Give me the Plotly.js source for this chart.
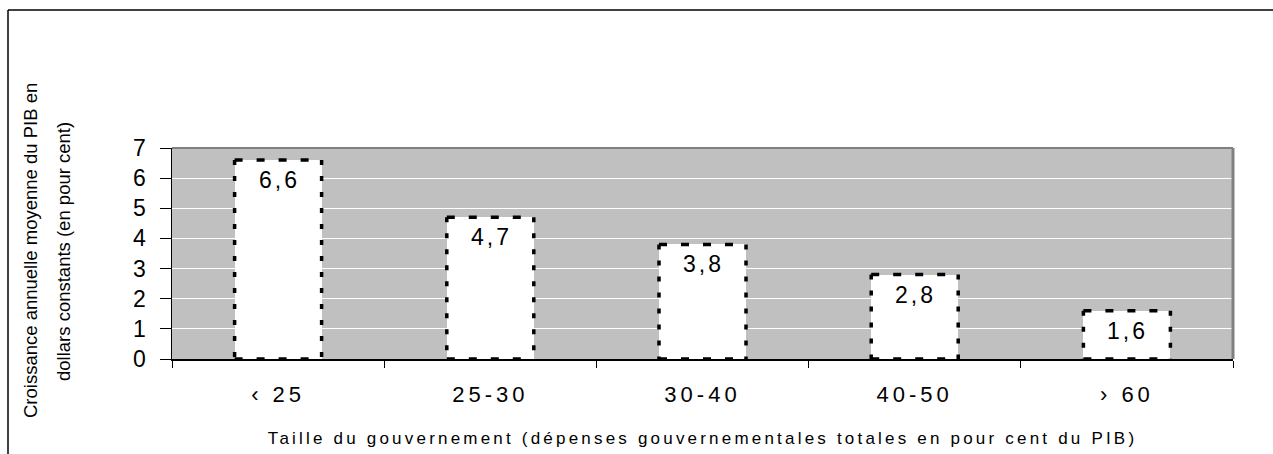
<!DOCTYPE html>
<html>
<head>
<meta charset="utf-8">
<script src="https://cdn.plot.ly/plotly-3.0.1.min.js"></script>
<style>
  html, body { margin: 0; padding: 0; background: #fff; }
  #chart { width: 1273px; height: 454px; }
  .xtick text { letter-spacing: 4px; }
  .g-xtitle text { letter-spacing: 3.2px; }
</style>
</head>
<body>
<div id="chart"></div>
<script>
// ---- data ----
const categories = ["\u2039 25", "25-30", "30-40", "40-50", "\u203A 60"];
const growthValues = [6.6, 4.7, 3.8, 2.8, 1.6];
const yTickValues = [0, 1, 2, 3, 4, 5, 6, 7];
const xTitleText = "Taille du gouvernement (dépenses gouvernementales totales en pour cent du PIB)";
const yTitleLines = ["Croissance annuelle moyenne du PIB en", "dollars constants (en pour cent)"];

// ---- layout geometry ----
const W = 1273, H = 454;
const M = { l: 172, r: 40, t: 148, b: 95 };
const plotW = W - M.l - M.r, plotH = H - M.t - M.b;
const px2x = p => (p - M.l) / plotW;
const py2y = p => (H - M.b - p) / plotH;
const barWidth = 0.41;
const FONT = '"Liberation Sans", Arial, sans-serif';

const fmt = v => v.toFixed(1).replace('.', ',');

const trace = {
  type: 'bar',
  x: categories,
  y: growthValues,
  width: barWidth,
  marker: { color: '#ffffff', line: { width: 0 } },
  hoverinfo: 'none'
};

const shapes = [];
// dotted bar outlines, built from the data values
const vDash = { color: '#000', width: 3.5, dash: '5px,11px' };
const hDash = { color: '#000', width: 3.5, dash: '8px,14px' };
growthValues.forEach((v, i) => {
  const x0 = i - barWidth / 2, x1 = i + barWidth / 2;
  shapes.push({ type: 'line', xref: 'x', yref: 'y', x0: x0, x1: x0, y0: v, y1: 0, line: vDash, layer: 'above' });
  shapes.push({ type: 'line', xref: 'x', yref: 'y', x0: x1, x1: x1, y0: v, y1: 0, line: vDash, layer: 'above' });
  shapes.push({ type: 'line', xref: 'x', yref: 'y', x0: x0, x1: x1, y0: v, y1: v, line: hDash, layer: 'above' });
  shapes.push({ type: 'line', xref: 'x', yref: 'y', x0: x0, x1: x1, y0: 0, y1: 0, line: hDash, layer: 'above' });
});
// plot-area shadow border (top & right)
shapes.push({ type: 'line', xref: 'paper', yref: 'paper', x0: 0, x1: 1, y0: 1, y1: 1,
  line: { color: '#808080', width: 2 } });
shapes.push({ type: 'line', xref: 'paper', yref: 'paper', x0: 1, x1: 1, y0: 0, y1: 1,
  line: { color: '#808080', width: 3 } });
// outer frame (top & left)
shapes.push({ type: 'line', xref: 'paper', yref: 'paper', x0: px2x(8), x1: px2x(1275), y0: py2y(10), y1: py2y(10),
  line: { color: '#000', width: 1.5 } });
shapes.push({ type: 'line', xref: 'paper', yref: 'paper', x0: px2x(8), x1: px2x(8), y0: py2y(10), y1: py2y(456),
  line: { color: '#000', width: 1.5 } });

const annotations = [];
growthValues.forEach((v, i) => {
  annotations.push({
    xref: 'x', yref: 'y', x: i, y: v,
    text: '<span style="letter-spacing:3px">' + fmt(v) + '</span>',
    showarrow: false, xanchor: 'center', yanchor: 'middle', yshift: -20, xshift: 1,
    font: { family: FONT, size: 23, color: '#000' }
  });
});
const yTitleX = [30, 63];
yTitleLines.forEach((t, k) => {
  annotations.push({
    xref: 'paper', yref: 'paper', x: px2x(yTitleX[k]), y: py2y(251),
    text: t, textangle: -90, showarrow: false,
    xanchor: 'center', yanchor: 'middle',
    font: { family: FONT, size: 18.5, color: '#000' }
  });
});

const layout = {
  width: W, height: H,
  margin: M,
  paper_bgcolor: '#ffffff',
  plot_bgcolor: '#c0c0c0',
  showlegend: false,
  font: { family: FONT, color: '#000' },
  bargap: 0,
  xaxis: {
    type: 'category',
    tickson: 'boundaries',
    ticks: 'outside', ticklen: 7, tickwidth: 1, tickcolor: '#000',
    showline: true, linecolor: '#000', linewidth: 1.5,
    showgrid: false, zeroline: false,
    tickfont: { family: FONT, size: 22, color: '#000' },
    ticklabelstandoff: 15,
    title: { text: xTitleText, font: { family: FONT, size: 17, color: '#000' }, standoff: 26 }
  },
  yaxis: {
    range: [0, 7],
    tickvals: yTickValues,
    ticktext: yTickValues.map(String),
    ticks: 'outside', ticklen: 11, tickwidth: 1, tickcolor: '#000',
    showline: true, linecolor: '#000', linewidth: 1.5,
    showgrid: true, gridcolor: '#ffffff', gridwidth: 1,
    zeroline: false,
    tickfont: { family: FONT, size: 23, color: '#000' },
    ticklabelstandoff: 9
  },
  shapes: shapes,
  annotations: annotations
};

Plotly.newPlot('chart', [trace], layout, { displayModeBar: false, staticPlot: true });
</script>
</body>
</html>
